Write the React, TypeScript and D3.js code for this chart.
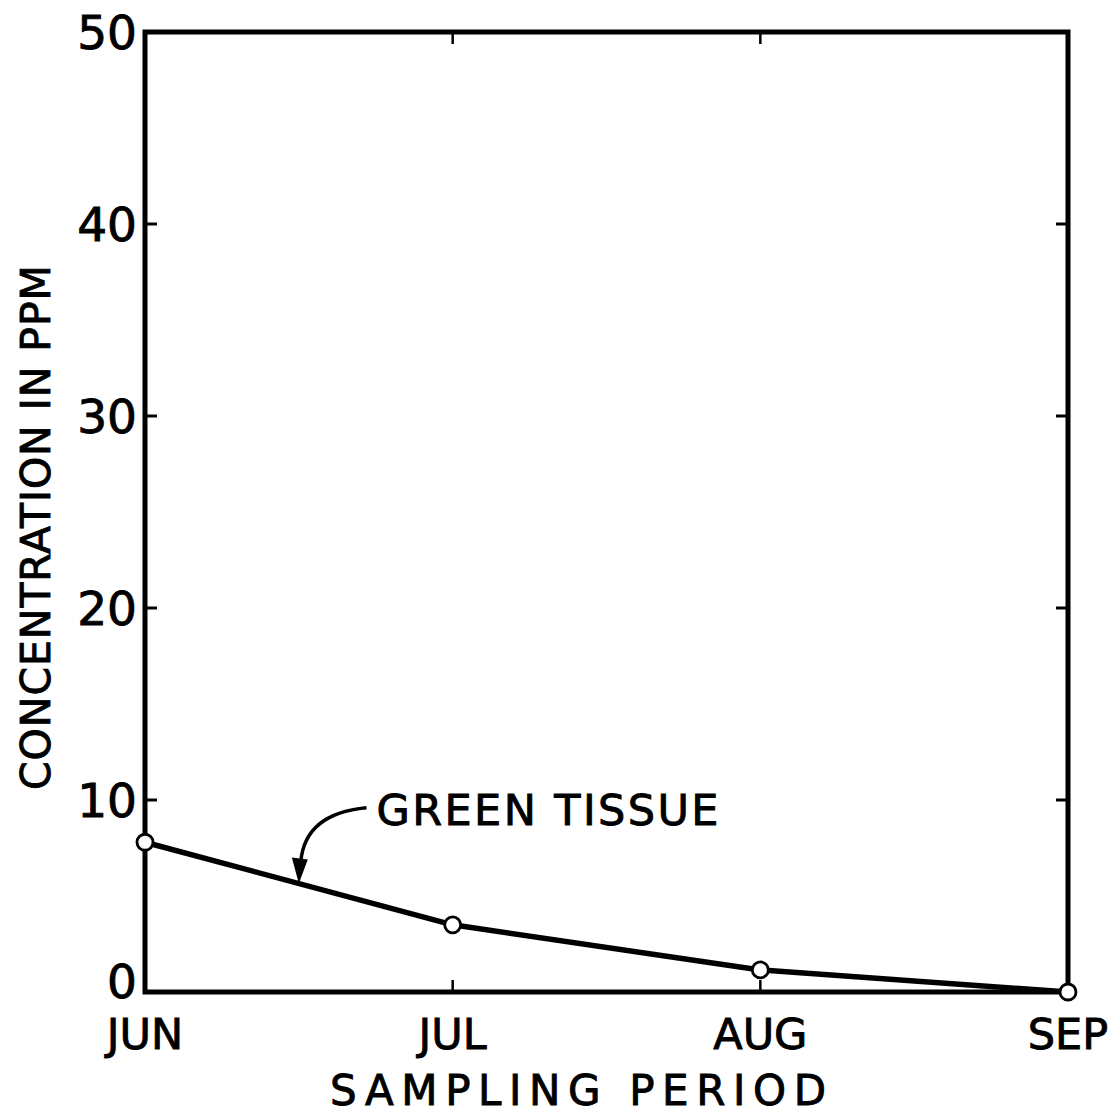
import React from 'react';
import * as d3 from 'd3';

const months = ['JUN', 'JUL', 'AUG', 'SEP'];
const greenTissue = [7.8, 3.5, 1.15, 0];
const yTicks = [0, 10, 20, 30, 40, 50];
const yTitle = 'CONCENTRATION  IN PPM';
const xTitle = 'SAMPLING  PERIOD';
const seriesLabel = 'GREEN  TISSUE';

const width = 1109;
const height = 1114;
const margin = { top: 32, right: 41, bottom: 122, left: 145 };
const font = '"DejaVu Sans", Verdana, sans-serif';

export default function App() {
  const x = d3.scaleLinear().domain([0, months.length - 1]).range([margin.left, width - margin.right]);
  const y = d3.scaleLinear().domain([0, 50]).range([height - margin.bottom, margin.top]);

  const line = d3.line<number>().x((d, i) => x(i)).y((d) => y(d));

  // annotation: arrow points at middle of JUN-JUL segment
  const tipX = x(0.5);
  const tipY = y((greenTissue[0] + greenTissue[1]) / 2);
  const startX = x(0.72);
  const startY = y(9.6);
  const ctrlX = x(0.52);
  const ctrlY = y(9.3);
  const headLen = 26;
  const headW = 7;
  const shaftEndY = tipY - headLen + 4;

  const tickLen = 12;
  const x0 = x(0);
  const x1 = x(months.length - 1);
  const y0 = y(0);
  const y1 = y(50);

  const txt = { fontFamily: font, fill: '#000', stroke: '#000', strokeWidth: 0.9 };

  return (
    <svg width={width} height={height} style={{ position: 'absolute', left: 0, top: 0, background: '#fff' }}>
      {/* frame */}
      <rect x={x0} y={y1} width={x1 - x0} height={y0 - y1} fill="none" stroke="#000" strokeWidth={5} />

      {/* y ticks, both sides, inward */}
      {yTicks.slice(1, -1).map((t) => (
        <g key={'yt' + t}>
          <line x1={x0} x2={x0 + tickLen} y1={y(t)} y2={y(t)} stroke="#000" strokeWidth={3} />
          <line x1={x1} x2={x1 - tickLen} y1={y(t)} y2={y(t)} stroke="#000" strokeWidth={3} />
        </g>
      ))}
      {yTicks.map((t) => (
        <text key={'yl' + t} x={x0 - 8} y={y(t)} dy={t === 0 ? '0.12em' : '0.36em'} textAnchor="end"
          fontSize={47} {...txt}>{t}</text>
      ))}

      {/* x ticks, top and bottom, inward */}
      {months.slice(1, -1).map((m, i) => (
        <g key={'xt' + m}>
          <line x1={x(i + 1)} x2={x(i + 1)} y1={y0} y2={y0 - tickLen} stroke="#000" strokeWidth={2.5} />
          <line x1={x(i + 1)} x2={x(i + 1)} y1={y1} y2={y1 + tickLen} stroke="#000" strokeWidth={2.5} />
        </g>
      ))}
      {months.map((m, i) => (
        <text key={'xl' + m} x={x(i)} y={y0 + 57} textAnchor="middle"
          fontSize={43} {...txt}>{m}</text>
      ))}

      {/* axis titles */}
      <text x={578} y={1105} textAnchor="middle" fontSize={42}
        textLength={496} lengthAdjust="spacing" {...txt}>{xTitle}</text>
      <text transform={`translate(50, ${(265 + 790) / 2}) rotate(-90)`} textAnchor="middle"
        fontSize={41} textLength={525} lengthAdjust="spacing" {...txt}>{yTitle}</text>

      {/* series */}
      <path d={line(greenTissue) || ''} fill="none" stroke="#000" strokeWidth={5.5} strokeLinejoin="round" />
      {greenTissue.map((v, i) => (
        <circle key={'pt' + i} cx={x(i)} cy={y(v)} r={8} fill="#fff" stroke="#000" strokeWidth={2.8} />
      ))}

      {/* annotation */}
      <path d={`M${startX},${startY} Q${ctrlX},${ctrlY} ${tipX + 2},${shaftEndY}`} fill="none" stroke="#000" strokeWidth={3.5} />
      <path d={`M${tipX},${tipY} L${tipX - headW},${tipY - headLen} L${tipX + headW + 2},${tipY - headLen + 2} Z`} fill="#000" />
      <text x={startX + 10} y={y(8.7)} fontSize={43} textLength={342}
        lengthAdjust="spacing" {...txt}>{seriesLabel}</text>
    </svg>
  );
}
